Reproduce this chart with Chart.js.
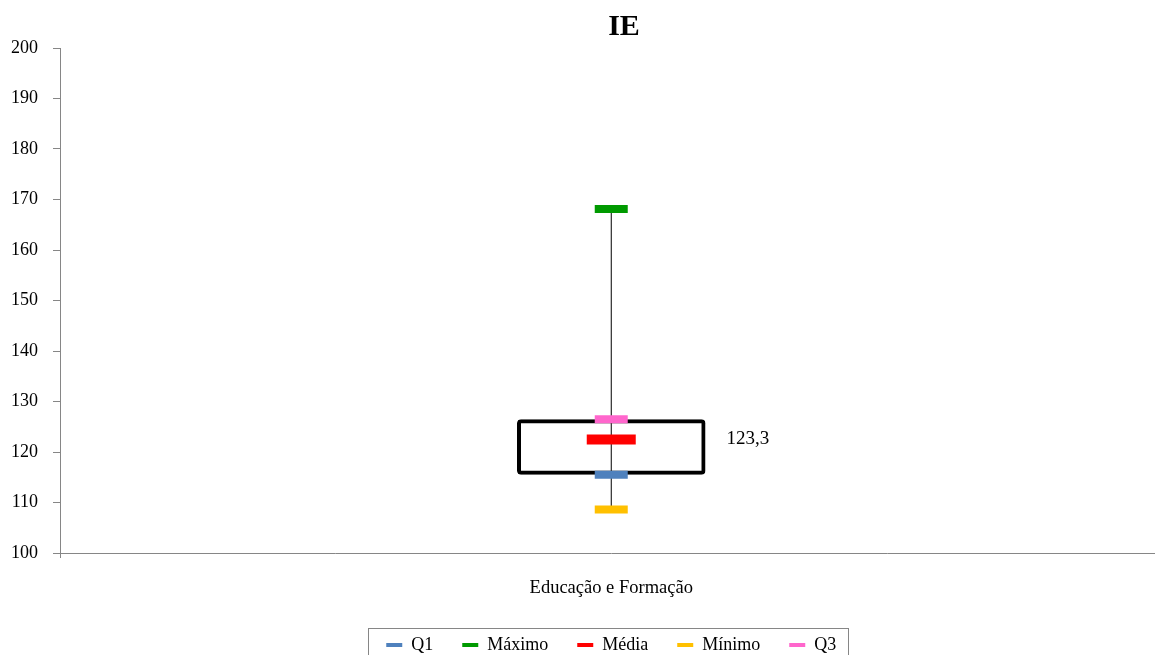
<!DOCTYPE html>
<html>
<head>
<meta charset="utf-8">
<script src="https://cdn.jsdelivr.net/npm/chart.js@4"></script>
<style>
  html, body { margin: 0; padding: 0; background: #fff; overflow: hidden; }
  #wrap { width: 1197px; height: 664px; }
</style>
</head>
<body>
<div id="wrap"><canvas id="chart" width="1197" height="664"></canvas></div>
<script>
const categories = ["Educação e Formação"];
const q1 = [115.5];
const maximo = [168.1];
const media = [122.5];
const minimo = [108.6];
const q3 = [126.5];
const mediaLabels = ["123,3"];
const yTicks = [100, 110, 120, 130, 140, 150, 160, 170, 180, 190, 200];

const serif = "'Liberation Serif', 'Times New Roman', serif";
Chart.defaults.font.family = serif;
Chart.defaults.color = '#000';

const markers = [
  { label: 'Q1', data: q1, color: '#4F81BD', r: 16.5, w: 8 },
  { label: 'Máximo', data: maximo, color: '#009A00', r: 16.5, w: 8 },
  { label: 'Média', data: media, color: '#FF0000', r: 24.5, w: 10 },
  { label: 'Mínimo', data: minimo, color: '#FFC000', r: 16.5, w: 8 },
  { label: 'Q3', data: q3, color: '#FF66CC', r: 16.5, w: 8 }
];

const markerSets = markers.map(m => ({
  type: 'line',
  label: m.label,
  data: m.data,
  showLine: false,
  pointStyle: 'line',
  pointRadius: m.r,
  pointHoverRadius: m.r,
  pointBorderWidth: m.w,
  pointHoverBorderWidth: m.w,
  borderColor: m.color,
  backgroundColor: m.color,
  order: 0
}));

const boxSet = {
  type: 'bar',
  label: 'box',
  data: categories.map((c, i) => [q1[i], q3[i]]),
  backgroundColor: 'rgba(0,0,0,0)',
  borderColor: '#000',
  borderWidth: 4,
  borderSkipped: false,
  borderRadius: 4,
  barPercentage: 0.171,
  categoryPercentage: 1,
  order: 1
};

const whiskerSet = {
  type: 'line',
  label: 'whisker',
  data: categories.flatMap((c, i) => [{ x: c, y: minimo[i] }, { x: c, y: maximo[i] }]),
  borderColor: '#000',
  borderWidth: 1,
  pointRadius: 0,
  order: 2
};

const extras = {
  id: 'extras',
  afterDraw(chart) {
    const ctx = chart.ctx;
    const y = chart.scales.y;
    // title
    ctx.save();
    ctx.fillStyle = '#000';
    ctx.font = 'bold 30px ' + serif;
    ctx.textAlign = 'center';
    ctx.textBaseline = 'middle';
    ctx.fillText('IE', 624, 27);
    // mean label
    const barMeta = chart.getDatasetMeta(0);
    ctx.font = '19px ' + serif;
    ctx.textAlign = 'left';
    barMeta.data.forEach((bar, i) => {
      ctx.fillText(mediaLabels[i], bar.x + bar.width / 2 + 21, y.getPixelForValue(media[i]));
    });
    // legend border
    const lg = chart.legend;
    if (lg && lg.legendHitBoxes.length) {
      const hb = lg.legendHitBoxes;
      const first = hb[0], last = hb[hb.length - 1];
      const cy = first.top + first.height / 2;
      ctx.strokeStyle = '#868686';
      ctx.lineWidth = 1;
      ctx.strokeRect(Math.round(first.left - 18) + 0.5, Math.round(cy - 17) + 0.5,
        Math.round(last.left + last.width + 12 - first.left + 18), 40);
    }
    ctx.restore();
  }
};

new Chart(document.getElementById('chart'), {
  type: 'bar',
  data: {
    labels: categories,
    datasets: [boxSet, whiskerSet, ...markerSets]
  },
  options: {
    responsive: false,
    animation: false,
    layout: { padding: { top: 48, right: 3, left: 0, bottom: 0 } },
    plugins: {
      title: { display: false },
      tooltip: { enabled: false },
      legend: {
        position: 'bottom',
        fullSize: false,
        labels: {
          boxWidth: 16,
          boxHeight: 4,
          padding: 29,
          font: { size: 18, family: serif },
          generateLabels: () => markers.map((m, i) => ({
            text: m.label,
            fillStyle: m.color,
            strokeStyle: m.color,
            lineWidth: 0,
            datasetIndex: i + 2,
            hidden: false
          }))
        }
      }
    },
    scales: {
      x: {
        grid: { display: true, drawOnChartArea: false, tickLength: 5, color: '#868686', offset: true },
        border: { color: '#868686' },
        ticks: { padding: 19, font: { size: 18.5 } },
        afterFit: s => { s.height = 54; }
      },
      y: {
        min: 100,
        max: 200,
        afterBuildTicks: s => { s.ticks = yTicks.map(v => ({ value: v })); },
        grid: { display: true, drawOnChartArea: false, tickLength: 7, color: '#868686' },
        border: { color: '#868686' },
        ticks: { padding: 15, font: { size: 18 } },
        afterFit: s => { s.width = 60; }
      }
    }
  },
  plugins: [extras]
});
</script>
</body>
</html>
